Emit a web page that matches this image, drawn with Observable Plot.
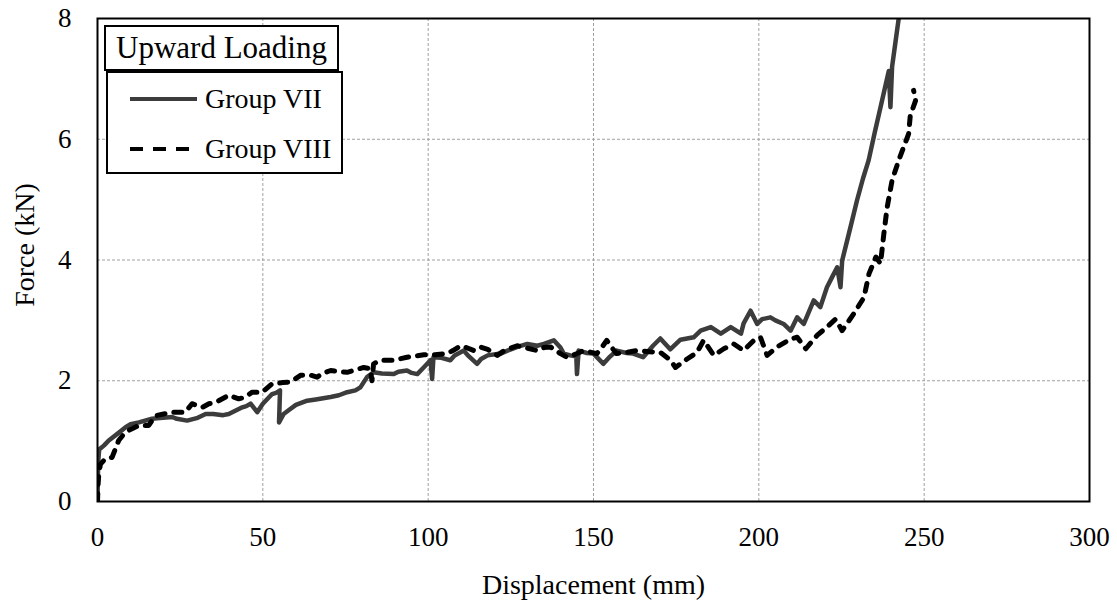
<!DOCTYPE html>
<html>
<head>
<meta charset="utf-8">
<script src="https://cdn.jsdelivr.net/npm/d3@7"></script>
<script src="https://cdn.jsdelivr.net/npm/@observablehq/plot@0.6"></script>
<style>
  html, body { margin: 0; padding: 0; background: #fff; }
  #wrap { position: relative; width: 1117px; height: 604px; font-family: 'Liberation Serif', 'Tinos', 'DejaVu Serif', 'Noto Serif', serif; }
  #wrap svg, #wrap svg text, #wrap svg g { font-family: 'Liberation Serif', 'Tinos', 'DejaVu Serif', 'Noto Serif', serif !important; }
  .lgbox { position: absolute; box-sizing: border-box; border: 2px solid #000; background: #fff; }
  .lgtitle { font-size: 31px; line-height: 41px; text-align: center; color: #000; }
  .lgitem { position: absolute; left: 20px; height: 30px; display: flex; align-items: center; font-size: 28px; color: #000; }
  .lgitem svg { margin-right: 6px; }
</style>
</head>
<body>
<div id="wrap"></div>
<script>
// ---- data ----
const xTicks = [0, 50, 100, 150, 200, 250, 300];
const yTicks = [0, 2, 4, 6, 8];
const seriesNames = ["Group VII", "Group VIII"];
const legendTitle = "Upward Loading";
const xLabel = "Displacement (mm)";
const yLabel = "Force (kN)";

// Group VII: [displacement mm, force kN]
const groupVII = [
  [0,0],[0.2,0.65],[0.5,0.86],[2,0.93],[3.4,1.01],[6,1.12],[8.5,1.23],[10,1.28],[12.5,1.31],[16.5,1.37],
  [18,1.38],[22.6,1.40],[24,1.37],[27.1,1.34],[30,1.38],[32.7,1.45],[35,1.45],[38,1.43],[39.7,1.45],[43.8,1.56],
  [45,1.58],[46.3,1.62],[47.3,1.55],[48.3,1.48],[50,1.62],[52.8,1.78],[54,1.80],[55.2,1.84],[54.9,1.31],[56.3,1.45],[58,1.52],
  [60,1.60],[63.4,1.67],[66,1.69],[70.5,1.73],[73,1.76],[75.5,1.81],[78,1.84],[79.5,1.89],[81.5,2.06],[83.5,2.14],
  [86,2.12],[89.6,2.11],[91,2.15],[93.6,2.17],[95,2.13],[96.7,2.11],[99,2.24],[100.7,2.34],[101.2,2.03],[101.6,2.39],
  [104,2.38],[106.7,2.34],[108,2.42],[110.8,2.50],[112,2.42],[114.8,2.28],[116,2.36],[118,2.42],[121.9,2.45],[124,2.50],
  [127,2.56],[130,2.61],[133,2.58],[135,2.61],[138,2.67],[140,2.55],[141,2.45],[143,2.42],[144.8,2.40],[145,2.11],
  [145.5,2.50],[148,2.46],[150,2.45],[153,2.28],[155,2.40],[157,2.50],[160,2.46],[162,2.45],[165,2.39],[168,2.58],
  [170.2,2.70],[173.2,2.52],[176.3,2.68],[180.3,2.72],[182.4,2.83],[185.5,2.89],[188.5,2.78],[191.5,2.89],[194.6,2.78],[195.4,2.95],
  [197.5,3.16],[199.5,2.94],[201,3.02],[203.5,3.05],[205,3.00],[207.5,2.94],[209.6,2.83],[211.6,3.05],[213.6,2.94],[216.6,3.33],
  [218.6,3.22],[220.6,3.55],[222,3.70],[223.7,3.88],[224.7,3.55],[225.2,3.99],[227.7,4.54],[229.7,4.99],[231.5,5.35],[233.2,5.65],
  [235,6.10],[236.8,6.53],[239.3,7.13],[239.8,6.53],[240.3,7.20],[241.3,7.60],[242.3,8.0],[242.8,8.3]
];

// Group VIII: [displacement mm, force kN]
const groupVIII = [
  [0,0],[0.2,0.30],[0.4,0.46],[0.9,0.62],[2.4,0.71],[4.4,0.73],[6.4,1.01],[8,1.12],[9.5,1.18],[12.5,1.26],
  [15.5,1.26],[17.5,1.42],[20,1.45],[22.6,1.48],[26.6,1.48],[28.6,1.62],[31.7,1.56],[33.7,1.62],[35.7,1.64],[39.7,1.76],
  [42.7,1.70],[44.2,1.72],[46.8,1.81],[49.8,1.81],[52.8,1.95],[56,1.97],[58.4,1.98],
  [61.4,2.09],[64,2.10],[66.4,2.06],[68,2.12],[70.5,2.17],[73,2.15],[75.5,2.14],[78,2.18],[80.5,2.22],[82.5,2.20],
  [83,2.00],[83.5,2.28],[85.6,2.34],[89.6,2.34],[93.6,2.39],[96,2.41],[98.7,2.43],[102,2.43],[105.7,2.45],[107.5,2.50],
  [109.8,2.58],[111.5,2.55],[113.8,2.50],[115.8,2.56],[118,2.52],[120.9,2.42],[123,2.50],[126.9,2.58],[130,2.54],[133,2.50],
  [135,2.55],[137,2.56],[140,2.45],[142,2.39],[145,2.45],[147,2.50],[151,2.45],[152.5,2.55],[154,2.67],[155.5,2.55],
  [157,2.45],[160,2.47],[163.2,2.50],[167,2.48],[170.2,2.47],[173.3,2.34],[174.8,2.22],[178.3,2.36],[181.3,2.47],[183.3,2.67],
  [186.4,2.42],[189.4,2.53],[192.4,2.61],[195.4,2.50],[198.5,2.67],[200.5,2.72],[202.5,2.42],[205.5,2.56],[209.6,2.69],
  [211.6,2.72],[214.2,2.53],[217.6,2.75],[220.6,2.89],[223.2,3.02],[225.2,2.83],[228.7,3.11],[231.8,3.38],[233.3,3.77],[235.4,4.05],
  [236.8,3.94],[237.8,4.43],[238.8,4.87],[240.3,5.32],[242.3,5.65],[243.8,5.87],[245.3,6.09],[245.8,6.39],[247.4,6.64],[246.8,6.81]
];

const colorVII = "#3c3c3c";
const colorVIII = "#000000";
const serif = "'Liberation Serif', 'Tinos', 'DejaVu Serif', 'Noto Serif', serif";

const toRows = (arr) => arr.map(([x, y]) => ({x, y}));

const chart = Plot.plot({
  width: 1117,
  height: 604,
  marginLeft: 97,
  marginRight: 28,
  marginTop: 18,
  marginBottom: 103,
  style: { fontFamily: serif, background: "#fff", color: "#000" },
  x: { domain: [0, 300] },
  y: { domain: [0, 8] },
  marks: [
    Plot.gridX(xTicks, { stroke: "#a0a0a0", strokeOpacity: 1, strokeWidth: 1, strokeDasharray: "3,2" }),
    Plot.gridY(yTicks, { stroke: "#a0a0a0", strokeOpacity: 1, strokeWidth: 1, strokeDasharray: "3,2" }),
    Plot.line(toRows(groupVII), { x: "x", y: "y", stroke: colorVII, strokeWidth: 4.5, strokeLinejoin: "round", strokeLinecap: "round", clip: true }),
    Plot.line(toRows(groupVIII), { x: "x", y: "y", stroke: colorVIII, strokeWidth: 5, strokeDasharray: "8,9", strokeLinejoin: "round", strokeLinecap: "round", clip: true }),
    Plot.frame({ stroke: "#000", strokeWidth: 2 }),
    Plot.axisX(xTicks, { tickSize: 0, tickPadding: 25, fontSize: 27, label: null, color: "#000", tickFormat: d => String(d), fontFamily: serif }),
    Plot.axisY(yTicks, { tickSize: 0, tickPadding: 26, fontSize: 27, label: null, color: "#000", tickFormat: d => String(d), fontFamily: serif }),
    Plot.text([xLabel], { text: d => d, frameAnchor: "bottom", dy: 84, lineAnchor: "middle", fontSize: 28, fill: "#000", fontFamily: serif }),
    Plot.text([yLabel], { text: d => d, frameAnchor: "left", rotate: -90, dx: -72, dy: -15, textAnchor: "middle", lineAnchor: "middle", fontSize: 28, fill: "#000", fontFamily: serif })
  ]
});

const wrap = document.getElementById("wrap");
wrap.appendChild(chart);

// legend overlay
const box1 = document.createElement("div");
box1.className = "lgbox";
Object.assign(box1.style, { left: "104px", top: "25px", width: "235px", height: "46px" });
const t = document.createElement("div");
t.className = "lgtitle";
t.textContent = legendTitle;
box1.appendChild(t);
wrap.appendChild(box1);

const box2 = document.createElement("div");
box2.className = "lgbox";
Object.assign(box2.style, { left: "106px", top: "71px", width: "237px", height: "103px" });
const items = [
  { name: seriesNames[0], color: colorVII, dash: null, top: 11 },
  { name: seriesNames[1], color: colorVIII, dash: "13,10", top: 61 }
];
items.forEach(it => {
  const d = document.createElement("div");
  d.className = "lgitem";
  d.style.top = it.top + "px";
  const s = `<svg width="71" height="10"><line x1="2" y1="5" x2="69" y2="5" stroke="${it.color}" stroke-width="4" ${it.dash ? `stroke-dasharray="${it.dash}"` : ""}/></svg>`;
  d.innerHTML = s + `<span>${it.name}</span>`;
  box2.appendChild(d);
});
wrap.appendChild(box2);
</script>
</body>
</html>
